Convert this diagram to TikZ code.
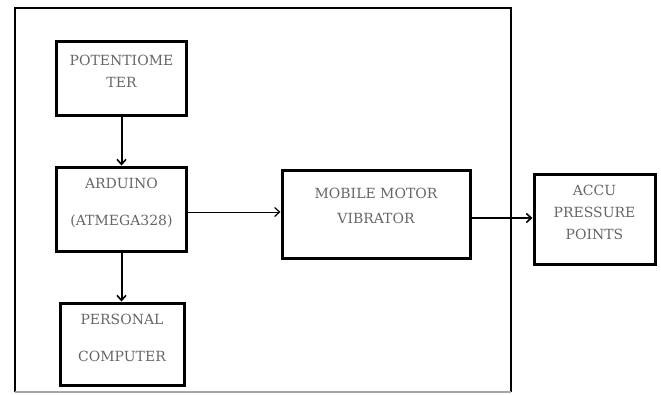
\documentclass[tikz,border=0pt]{standalone}
\usepackage{fontspec}
\newfontfamily\slabfont{DejaVu Serif}
\usetikzlibrary{arrows.meta}
\begin{document}
\begin{tikzpicture}[x=1pt,y=-1pt,
  blk/.style={draw=black,line width=3pt,inner sep=0pt},
  txt/.style={text=black!60,align=center,inner sep=0pt,font=\slabfont\fontsize{14}{22}\selectfont},
  conn/.style={line width=2pt,-{Straight Barb[length=5pt,width=9pt,line width=1.6pt]}},
  thinconn/.style={line width=1pt,-{Straight Barb[length=5pt,width=9pt,line width=1.2pt]}}]
\useasboundingbox[fill=white] (0,0) rectangle (661,394);
% outer frame
\draw[line width=2pt] (15,392) -- (15,8) -- (511,8) -- (511,392);
\draw[line width=1.2pt,black!35] (15,392) -- (511,392);
% blocks
\node[blk,minimum width=130pt,minimum height=74pt] (pot) at (121.5,78) {};
\node[blk,minimum width=130pt,minimum height=84pt] (ard) at (121.5,209) {};
\node[blk,minimum width=124pt,minimum height=82pt] (pc) at (122,344) {};
\node[blk,minimum width=188pt,minimum height=88pt] (mob) at (376,214) {};
\node[blk,minimum width=121pt,minimum height=90pt] (acc) at (594.5,219) {};
% texts
\node[txt] (potT) at (121.5,71) {POTENTIOME\\TER};
\node[txt,font=\slabfont\fontsize{14}{37}\selectfont] (ardT) at (121.5,202.5) {ARDUINO\\(ATMEGA328)};
\node[txt,font=\slabfont\fontsize{14}{37}\selectfont] (pcT) at (122,337.5) {PERSONAL\\COMPUTER};
\node[txt,font=\slabfont\fontsize{14}{25}\selectfont] (mobT) at (376,205.5) {MOBILE MOTOR\\VIBRATOR};
\node[txt,font=\slabfont\fontsize{14}{22}\selectfont] (accT) at (594.5,212) {ACCU\\PRESSURE\\POINTS};
% connectors
\draw[conn] (pot.south) -- (ard.north);
\draw[conn] (ard.south) -- (ard.south |- pc.north);
\draw[thinconn] ([yshift=-3pt]ard.east) -- ([yshift=2pt]mob.west);
\draw[conn] ([yshift=-4pt]mob.east) -- ([yshift=1pt]acc.west);
\end{tikzpicture}
\end{document}
